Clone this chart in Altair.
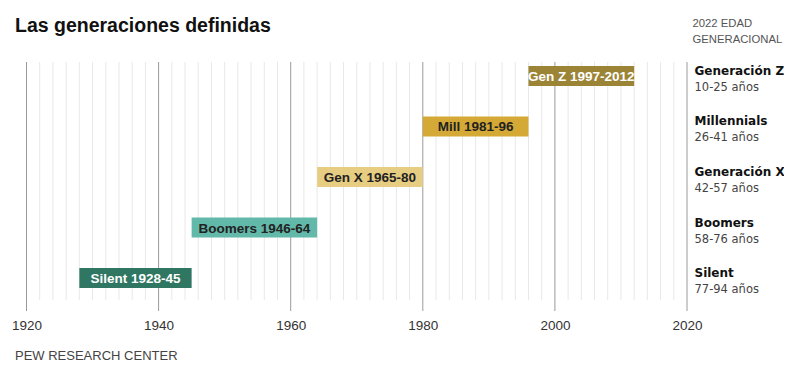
import altair as alt
import pandas as pd

# ---- data ----
generations = ["Generación Z", "Millennials", "Generación X", "Boomers", "Silent"]
bar_labels = ["Gen Z 1997-2012", "Mill 1981-96", "Gen X 1965-80", "Boomers 1946-64", "Silent 1928-45"]
bar_start = [1996, 1980, 1964, 1945, 1928]
bar_end = [2012, 1996, 1980, 1964, 1945]
age_ranges = ["10-25 años", "26-41 años", "42-57 años", "58-76 años", "77-94 años"]
major_years = [1920, 1940, 1960, 1980, 2000, 2020]
minor_years = [1922, 1924, 1926, 1928, 1930, 1932, 1934, 1936, 1938,
               1942, 1944, 1946, 1948, 1950, 1952, 1954, 1956, 1958,
               1962, 1964, 1966, 1968, 1970, 1972, 1974, 1976, 1978,
               1982, 1984, 1986, 1988, 1990, 1992, 1994, 1996, 1998,
               2002, 2004, 2006, 2008, 2010, 2012, 2014, 2016, 2018]

title_text = "Las generaciones definidas"
header_line1 = "2022 EDAD"
header_line2 = "GENERACIONAL"
footer_text = "PEW RESEARCH CENTER"

# ---- styles ----
bar_colors = ["#9c8437", "#d4a935", "#e6cd82", "#62b8a9", "#2f7762"]
light_text_gens = ["Generación Z", "Silent"]

W, H = 660.5, 230

gens_df = pd.DataFrame({
    "gen": generations,
    "label": bar_labels,
    "start": bar_start,
    "end": bar_end,
    "age": age_ranges,
})

xscale = alt.Scale(domain=[1920, 2020], nice=False, zero=False)
yscale = alt.Scale(type="point", domain=generations, padding=0.277)
xaxis = alt.Axis(
    values=major_years, format="d", title=None, grid=False, ticks=False,
    tickSize=0, domain=False, labelFont="Liberation Sans", labelFontSize=13.5,
    labelColor="#333333", labelBaseline="alphabetic", labelPadding=37,
    labelFlush=False,
)

minor = alt.Chart(pd.DataFrame({"year": minor_years})).mark_rule(
    color="#e8e8e8", strokeWidth=1
).encode(
    x=alt.X("year:Q", scale=xscale, axis=xaxis),
    y=alt.value(0), y2=alt.value(238),
)

major = alt.Chart(pd.DataFrame({"year": major_years})).mark_rule(
    color="#9a9a9a", strokeWidth=1
).encode(
    x=alt.X("year:Q", scale=xscale, axis=xaxis),
    y=alt.value(0), y2=alt.value(249),
)

bars = alt.Chart(gens_df).mark_bar(size=20).encode(
    x=alt.X("start:Q", scale=xscale, axis=xaxis),
    x2="end:Q",
    y=alt.Y("gen:N", scale=yscale, axis=None),
    color=alt.Color("gen:N", scale=alt.Scale(domain=generations, range=bar_colors), legend=None),
)

bar_text = alt.Chart(gens_df).transform_calculate(
    mid="(datum.start + datum.end) / 2"
).mark_text(
    font="Liberation Sans", fontSize=13.5, fontWeight="bold", baseline="middle", align="center", dy=1
).encode(
    x=alt.X("mid:Q", scale=xscale, axis=xaxis),
    y=alt.Y("gen:N", scale=yscale, axis=None),
    text="label:N",
    color=alt.condition(
        alt.FieldOneOfPredicate(field="gen", oneOf=light_text_gens),
        alt.value("#ffffff"), alt.value("#222222"),
    ),
)

names = alt.Chart(gens_df).mark_text(
    font="DejaVu Sans", fontSize=12, fontWeight="bold", align="left",
    baseline="alphabetic", dy=-1, color="#111111"
).encode(
    x=alt.value(W + 7.5),
    y=alt.Y("gen:N", scale=yscale, axis=None),
    text="gen:N",
)

ages = alt.Chart(gens_df).mark_text(
    font="DejaVu Sans", fontSize=11.5, align="left",
    baseline="alphabetic", dy=15, color="#444444"
).encode(
    x=alt.value(W + 7.5),
    y=alt.Y("gen:N", scale=yscale, axis=None),
    text="age:N",
)

title = alt.Chart(pd.DataFrame({"t": [title_text]})).mark_text(
    font="Liberation Sans", fontSize=19.5, fontWeight="bold", align="left",
    baseline="alphabetic", color="#111111"
).encode(x=alt.value(-11.5), y=alt.value(-30), text="t:N")

header1 = alt.Chart(pd.DataFrame({"t": [header_line1]})).mark_text(
    font="Liberation Sans", fontSize=11.3, align="left",
    baseline="alphabetic", color="#555555"
).encode(x=alt.value(W + 5.5), y=alt.value(-35), text="t:N")

header2 = alt.Chart(pd.DataFrame({"t": [header_line2]})).mark_text(
    font="Liberation Sans", fontSize=11.3, align="left",
    baseline="alphabetic", color="#555555"
).encode(x=alt.value(W + 5.5), y=alt.value(-19), text="t:N")

footer = alt.Chart(pd.DataFrame({"t": [footer_text]})).mark_text(
    font="Liberation Sans", fontSize=13, align="left",
    baseline="alphabetic", color="#444444"
).encode(x=alt.value(-11.5), y=alt.value(298), text="t:N")

chart = alt.layer(
    minor, major, bars, bar_text, names, ages, title, header1, header2, footer
).resolve_scale(
    y="independent"
).properties(
    width=W, height=H,
    autosize=alt.AutoSizeParams(type="none"),
    padding={"left": 18.5, "top": 54, "right": 97, "bottom": 70},
    background="#ffffff",
).configure_view(stroke=None)

chart.save("out.html", embed_options={"renderer": "svg", "actions": False})
